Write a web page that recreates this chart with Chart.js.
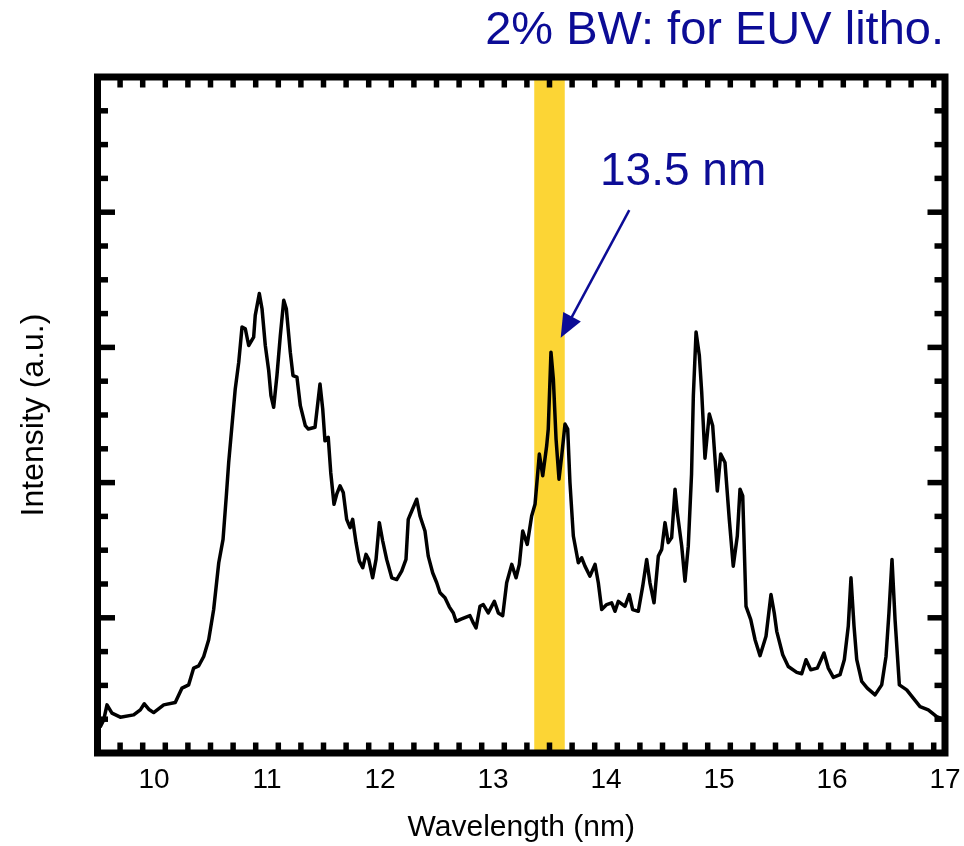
<!DOCTYPE html>
<html>
<head>
<meta charset="utf-8">
<script src="https://cdn.jsdelivr.net/npm/chart.js@4.4.1/dist/chart.umd.min.js"></script>
<style>
  html, body { margin: 0; padding: 0; background: #fff; }
  #wrap { width: 964px; height: 846px; }
</style>
</head>
<body>
<div id="wrap"><canvas id="c" width="964" height="846"></canvas></div>
<script>
// ---- data ----
const wavelengths = [
  9.500, 9.525, 9.555, 9.584, 9.628, 9.702, 9.820, 9.879, 9.914, 9.953,
  9.997, 10.086, 10.188, 10.248, 10.307, 10.351, 10.396, 10.440, 10.484, 10.528,
  10.573, 10.611, 10.640, 10.661, 10.690, 10.719, 10.750, 10.779, 10.808, 10.838,
  10.882, 10.896, 10.932, 10.956, 10.985, 11.015, 11.035, 11.059, 11.088, 11.118,
  11.148, 11.171, 11.206, 11.230, 11.265, 11.295, 11.339, 11.366, 11.425, 11.469,
  11.493, 11.513, 11.542, 11.564, 11.593, 11.617, 11.646, 11.675, 11.705, 11.735,
  11.758, 11.788, 11.817, 11.847, 11.876, 11.900, 11.935, 11.965, 11.994, 12.024,
  12.059, 12.104, 12.148, 12.192, 12.230, 12.250, 12.281, 12.325, 12.354, 12.398,
  12.427, 12.466, 12.502, 12.531, 12.575, 12.613, 12.649, 12.673, 12.723, 12.796,
  12.826, 12.850, 12.885, 12.914, 12.958, 13.012, 13.047, 13.086, 13.121, 13.166,
  13.204, 13.233, 13.263, 13.303, 13.342, 13.372, 13.410, 13.440, 13.475, 13.489,
  13.513, 13.534, 13.558, 13.584, 13.608, 13.637, 13.661, 13.681, 13.711, 13.755,
  13.785, 13.814, 13.858, 13.903, 13.932, 13.962, 14.006, 14.050, 14.080, 14.109,
  14.168, 14.206, 14.236, 14.286, 14.325, 14.360, 14.389, 14.425, 14.463, 14.493,
  14.522, 14.551, 14.581, 14.611, 14.631, 14.670, 14.699, 14.728, 14.757, 14.773,
  14.797, 14.826, 14.847, 14.876, 14.914, 14.944, 14.985, 15.015, 15.053, 15.091,
  15.126, 15.162, 15.186, 15.210, 15.239, 15.281, 15.319, 15.363, 15.416, 15.460,
  15.489, 15.511, 15.564, 15.613, 15.688, 15.732, 15.770, 15.812, 15.870, 15.929,
  15.967, 16.012, 16.071, 16.109, 16.144, 16.168, 16.195, 16.219, 16.263, 16.312,
  16.381, 16.440, 16.478, 16.504, 16.531, 16.558, 16.596, 16.661, 16.719, 16.779,
  16.852, 16.926, 17.000
];
const intensities = [
  0.190, 0.195, 0.245, 0.356, 0.295, 0.265, 0.282, 0.319, 0.364, 0.324,
  0.299, 0.356, 0.373, 0.480, 0.504, 0.628, 0.645, 0.714, 0.838, 1.061,
  1.407, 1.580, 1.901, 2.149, 2.421, 2.693, 2.891, 3.151, 3.138, 3.014,
  3.076, 3.237, 3.398, 3.286, 3.014, 2.829, 2.643, 2.557, 2.792, 3.088,
  3.348, 3.286, 2.965, 2.792, 2.780, 2.569, 2.421, 2.396, 2.409, 2.730,
  2.545, 2.309, 2.335, 2.075, 1.840, 1.914, 1.976, 1.927, 1.728, 1.667,
  1.728, 1.556, 1.419, 1.370, 1.469, 1.432, 1.296, 1.432, 1.704, 1.568,
  1.432, 1.296, 1.283, 1.345, 1.432, 1.728, 1.790, 1.877, 1.753, 1.642,
  1.456, 1.333, 1.259, 1.185, 1.148, 1.081, 1.036, 0.974, 0.992, 1.016,
  0.962, 0.925, 1.085, 1.098, 1.036, 1.122, 1.036, 1.016, 1.259, 1.395,
  1.296, 1.395, 1.642, 1.543, 1.753, 1.840, 2.211, 2.050, 2.272, 2.396,
  2.965, 2.767, 2.322, 2.025, 2.198, 2.433, 2.396, 2.001, 1.605, 1.407,
  1.444, 1.382, 1.308, 1.395, 1.259, 1.061, 1.098, 1.111, 1.048, 1.122,
  1.085, 1.172, 1.061, 1.048, 1.234, 1.432, 1.259, 1.111, 1.456, 1.506,
  1.704, 1.556, 1.593, 1.951, 1.778, 1.530, 1.271, 1.530, 2.062, 2.643,
  3.114, 2.940, 2.668, 2.181, 2.507, 2.421, 1.938, 2.211, 2.149, 1.728,
  1.382, 1.605, 1.951, 1.901, 1.085, 0.987, 0.838, 0.720, 0.863, 1.172,
  1.036, 0.900, 0.727, 0.640, 0.596, 0.586, 0.690, 0.616, 0.628, 0.740,
  0.628, 0.559, 0.579, 0.690, 0.937, 1.296, 0.937, 0.690, 0.529, 0.480,
  0.430, 0.504, 0.714, 1.036, 1.432, 0.987, 0.504, 0.467, 0.406, 0.343,
  0.319, 0.269, 0.245
];
const xRange = [9.5, 17];
const yRange = [0, 5];
const xTickValues = [10, 11, 12, 13, 14, 15, 16, 17];
const xMinorStep = 0.2;
const yMajorStep = 1;
const yMinorStep = 0.25;
const bandNm = [13.365, 13.635];          // 2% bandwidth around 13.5 nm
const arrowFrom = [14.206, 4.016];        // annotation arrow, data coords
const arrowTo = [13.599, 3.071];
const labelAt = [13.947, 4.201];          // "13.5 nm" anchor, data coords
const bandTitle = '2% BW: for EUV litho.';
const peakLabel = '13.5 nm';
const xTitle = 'Wavelength (nm)';
const yTitle = 'Intensity (a.u.)';

const FONT = "'Liberation Sans', Arial, Helvetica, sans-serif";
const BLUE = '#0c0c96';

const points = wavelengths.map((w, i) => ({ x: w, y: intensities[i] }));

const decor = {
  id: 'decor',
  beforeDatasetsDraw(chart) {
    const { ctx, chartArea: a, scales: { x } } = chart;
    const x0 = x.getPixelForValue(bandNm[0]);
    const x1 = x.getPixelForValue(bandNm[1]);
    ctx.save();
    ctx.fillStyle = '#fcd535';
    ctx.fillRect(x0, a.top, x1 - x0, a.bottom - a.top);
    ctx.restore();
  },
  afterDatasetsDraw(chart) {
    const { ctx, chartArea: a, scales: { x, y } } = chart;
    const BW = 7;
    ctx.save();
    ctx.strokeStyle = '#000';
    ctx.lineWidth = 5.5;
    ctx.lineCap = 'butt';
    const inner = BW / 2;
    const tick = (x1, y1, x2, y2) => { ctx.beginPath(); ctx.moveTo(x1, y1); ctx.lineTo(x2, y2); ctx.stroke(); };
    for (let v = xRange[0] + xMinorStep; v < xRange[1] - 1e-6; v += xMinorStep) {
      const r = Math.round(v * 10) / 10;
      const major = xTickValues.some(t => Math.abs(t - r) < 1e-6);
      const len = inner + (major ? 14 : 7);
      const px = x.getPixelForValue(r);
      tick(px, a.top, px, a.top + len);
      tick(px, a.bottom, px, a.bottom - len);
    }
    for (let v = yRange[0] + yMinorStep; v < yRange[1] - 1e-6; v += yMinorStep) {
      const major = Math.abs(v / yMajorStep - Math.round(v / yMajorStep)) < 1e-6;
      const len = inner + (major ? 14 : 7);
      const py = y.getPixelForValue(v);
      tick(a.left, py, a.left + len, py);
      tick(a.right, py, a.right - len, py);
    }
    ctx.lineWidth = BW;
    ctx.lineJoin = 'miter';
    ctx.strokeRect(a.left, a.top, a.right - a.left, a.bottom - a.top);

    const fx = x.getPixelForValue(arrowFrom[0]), fy = y.getPixelForValue(arrowFrom[1]);
    const tx = x.getPixelForValue(arrowTo[0]), ty = y.getPixelForValue(arrowTo[1]);
    const dx = tx - fx, dy = ty - fy, L = Math.hypot(dx, dy);
    const ux = dx / L, uy = dy / L;
    const headL = 24, headW = 10;
    const bx = tx - ux * headL, by = ty - uy * headL;
    ctx.strokeStyle = BLUE;
    ctx.fillStyle = BLUE;
    ctx.lineWidth = 2.5;
    ctx.beginPath(); ctx.moveTo(fx, fy); ctx.lineTo(bx + ux * 2, by + uy * 2); ctx.stroke();
    ctx.beginPath();
    ctx.moveTo(tx, ty);
    ctx.lineTo(bx - uy * headW, by + ux * headW);
    ctx.lineTo(bx + uy * headW, by - ux * headW);
    ctx.closePath();
    ctx.fill();

    ctx.font = '46px ' + FONT;
    ctx.textBaseline = 'alphabetic';
    ctx.textAlign = 'left';
    ctx.fillText(peakLabel, x.getPixelForValue(labelAt[0]), y.getPixelForValue(labelAt[1]));
    ctx.textAlign = 'right';
    ctx.font = '47px ' + FONT;
    ctx.fillText(bandTitle, a.right - 1, 44);
    ctx.restore();
  }
};

new Chart(document.getElementById('c'), {
  type: 'line',
  data: {
    datasets: [{
      data: points,
      borderColor: '#000',
      borderWidth: 3.5,
      pointRadius: 0,
      tension: 0,
      fill: false,
      borderJoinStyle: 'round',
      borderCapStyle: 'round'
    }]
  },
  options: {
    responsive: false,
    animation: false,
    devicePixelRatio: 1,
    parsing: false,
    layout: { padding: { top: 77, right: 19, left: 0, bottom: 0 } },
    plugins: { legend: { display: false }, tooltip: { enabled: false } },
    scales: {
      x: {
        type: 'linear',
        min: xRange[0],
        max: xRange[1],
        afterBuildTicks: (s) => { s.ticks = xTickValues.map(v => ({ value: v })); },
        afterFit: (s) => { s.height = 93; s.paddingRight = 0; s.paddingLeft = 0; },
        grid: { display: false, drawTicks: false },
        border: { display: false },
        ticks: {
          color: '#000',
          font: { family: FONT, size: 28 },
          padding: 10,
          maxRotation: 0,
          callback: (v) => String(v)
        },
        title: {
          display: true,
          text: xTitle,
          color: '#000',
          font: { family: FONT, size: 30, lineHeight: 1.0 },
          padding: { top: 0, bottom: 3 }
        }
      },
      y: {
        type: 'linear',
        min: yRange[0],
        max: yRange[1],
        afterFit: (s) => { s.width = 97.5; s.paddingTop = 0; s.paddingBottom = 0; },
        grid: { display: false, drawTicks: false },
        border: { display: false },
        ticks: { display: false },
        title: {
          display: true,
          text: yTitle,
          color: '#000',
          font: { family: FONT, size: 32, lineHeight: 1.0 },
          padding: { top: 18, bottom: 0 }
        }
      }
    }
  },
  plugins: [decor]
});
</script>
</body>
</html>
